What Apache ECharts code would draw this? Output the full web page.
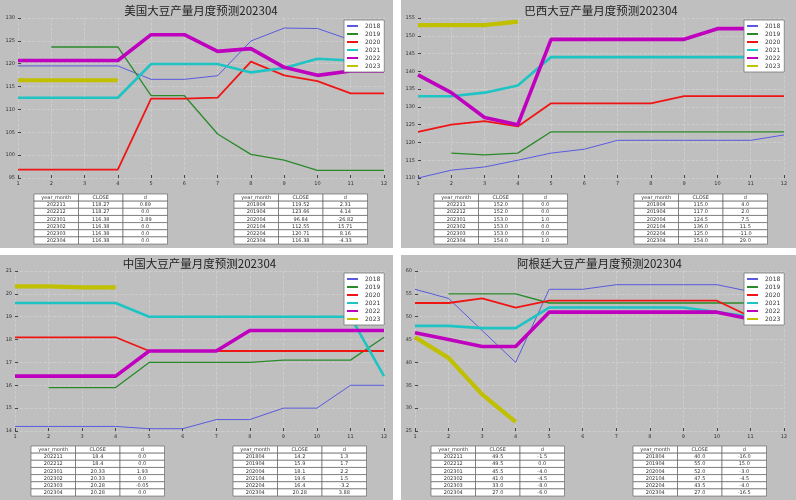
<!DOCTYPE html>
<html>
<head>
<meta charset="utf-8">
<script src="https://cdn.jsdelivr.net/npm/echarts@6/dist/echarts.min.js"></script>
<style>
  html, body { margin: 0; padding: 0; background: #fff; }
  #main { width: 796px; height: 500px; }
</style>
</head>
<body>
<div id="main"></div>
<script>
var months = ['1', '2', '3', '4', '5', '6', '7', '8', '9', '10', '11', '12'];
var years = ['2018', '2019', '2020', '2021', '2022', '2023'];
var titles = ['美国大豆产量月度预测202304', '巴西大豆产量月度预测202304', '中国大豆产量月度预测202304', '阿根廷大豆产量月度预测202304'];

// y axis ranges per panel
var yMin = [95, 110, 14, 25];
var yMax = [130, 155, 21, 60];
var yStep = [5, 5, 1, 5];

// one row per year (2018..2023), month 1..12
var usLines = [
  [119.52, 119.52, 119.52, 119.52, 116.58, 116.58, 117.38, 124.97, 127.8, 127.7, 125.2, 125.2],
  [null, 123.66, 123.66, 123.66, 113.0, 113.0, 104.62, 100.17, 98.93, 96.67, 96.67, 96.67],
  [96.84, 96.84, 96.84, 96.84, 112.35, 112.35, 112.6, 120.45, 117.45, 116.2, 113.52, 113.52],
  [112.55, 112.55, 112.55, 112.55, 119.93, 119.93, 119.93, 118.1, 119.06, 121.1, 120.7, 120.4],
  [120.71, 120.71, 120.71, 120.71, 126.35, 126.35, 122.7, 123.3, 119.2, 117.45, 118.4, 118.4],
  [116.38, 116.38, 116.38, 116.38]
];
var brLines = [
  [110, 112.2, 113.1, 115, 117, 118.1, 120.6, 120.6, 120.6, 120.6, 120.6, 122.1],
  [null, 117, 116.5, 117, 123, 123, 123, 123, 123, 123, 123, 123],
  [123, 125, 126, 124.5, 131, 131, 131, 131, 133, 133, 133, 133],
  [133, 133, 134, 136, 144, 144, 144, 144, 144, 144, 144, 144],
  [139, 134, 127, 125, 149, 149, 149, 149, 149, 152, 152, 152],
  [153, 153, 153, 154]
];
var cnLines = [
  [14.2, 14.2, 14.2, 14.2, 14.1, 14.1, 14.5, 14.5, 15, 15, 16, 16],
  [null, 15.9, 15.9, 15.9, 17, 17, 17, 17, 17.1, 17.1, 17.1, 18.1],
  [18.1, 18.1, 18.1, 18.1, 17.5, 17.5, 17.5, 17.5, 17.5, 17.5, 17.5, 17.5],
  [19.6, 19.6, 19.6, 19.6, 19, 19, 19, 19, 19, 19, 19, 16.4],
  [16.4, 16.4, 16.4, 16.4, 17.5, 17.5, 17.5, 18.4, 18.4, 18.4, 18.4, 18.4],
  [20.33, 20.33, 20.28, 20.28]
];
var arLines = [
  [56, 54, 47, 40, 56, 56, 57, 57, 57, 57, 55.5, 55.5],
  [null, 55, 55, 55, 53, 53, 53, 53, 53, 53, 53, 53],
  [53, 53, 54, 52, 53.5, 53.5, 53.5, 53.5, 53.5, 53.5, 50, 50],
  [48, 48, 47.5, 47.5, 52, 52, 52, 52, 52, 51, 50, 49.5],
  [46.5, 45, 43.5, 43.5, 51, 51, 51, 51, 51, 51, 49.5, 49.5],
  [45.5, 41, 33, 27]
];

// tables under each chart
var tableHead = ['year_month', 'CLOSE', 'd'];
var usRecent = [['202211', '118.27', '0.89'], ['202212', '118.27', '0.0'], ['202301', '116.38', '-1.89'], ['202302', '116.38', '0.0'], ['202303', '116.38', '0.0'], ['202304', '116.38', '0.0']];
var usApril = [['201804', '119.52', '2.31'], ['201904', '123.66', '4.14'], ['202004', '96.84', '-26.82'], ['202104', '112.55', '15.71'], ['202204', '120.71', '8.16'], ['202304', '116.38', '-4.33']];
var brRecent = [['202211', '152.0', '0.0'], ['202212', '152.0', '0.0'], ['202301', '153.0', '1.0'], ['202302', '153.0', '0.0'], ['202303', '153.0', '0.0'], ['202304', '154.0', '1.0']];
var brApril = [['201804', '115.0', '4.0'], ['201904', '117.0', '2.0'], ['202004', '124.5', '7.5'], ['202104', '136.0', '11.5'], ['202204', '125.0', '-11.0'], ['202304', '154.0', '29.0']];
var cnRecent = [['202211', '18.4', '0.0'], ['202212', '18.4', '0.0'], ['202301', '20.33', '1.93'], ['202302', '20.33', '0.0'], ['202303', '20.28', '-0.05'], ['202304', '20.28', '0.0']];
var cnApril = [['201804', '14.2', '1.3'], ['201904', '15.9', '1.7'], ['202004', '18.1', '2.2'], ['202104', '19.6', '1.5'], ['202204', '16.4', '-3.2'], ['202304', '20.28', '3.88']];
var arRecent = [['202211', '49.5', '-1.5'], ['202212', '49.5', '0.0'], ['202301', '45.5', '-4.0'], ['202302', '41.0', '-4.5'], ['202303', '33.0', '-8.0'], ['202304', '27.0', '-6.0']];
var arApril = [['201804', '40.0', '-16.0'], ['201904', '55.0', '15.0'], ['202004', '52.0', '-3.0'], ['202104', '47.5', '-4.5'], ['202204', '43.5', '-4.0'], ['202304', '27.0', '-16.5']];

var allLines = [usLines, brLines, cnLines, arLines];
var allTables = [[usRecent, usApril], [brRecent, brApril], [cnRecent, cnApril], [arRecent, arApril]];

var colors = ['#5a5ae0', '#2a8a2a', '#f01515', '#1ec4c4', '#bf00bf', '#c0c000'];
var widths = [1, 1.3, 1.8, 2.6, 3.6, 4.2];

// layout of the 4 panels
var panels = [
  { bg: [0, 0, 393, 248], grid: [18, 18, 366, 160], titleTop: 5, tblTop: 194, tblX: [34, 234] },
  { bg: [401, 0, 395, 248], grid: [418, 18, 366, 160], titleTop: 5, tblTop: 194, tblX: [434, 634] },
  { bg: [0, 255, 393, 245], grid: [15, 271, 369, 160], titleTop: 258, tblTop: 446, tblX: [31, 233] },
  { bg: [401, 255, 395, 245], grid: [415, 271, 369, 160], titleTop: 258, tblTop: 446, tblX: [431, 633] }
];

var labelFont = 'DejaVu Sans';
var cjkFont = '"Noto Sans CJK SC"';

function buildTable(x0, y0, rows) {
  var els = [];
  var cw = 44.5, rh = 7.15;
  var all = [tableHead].concat(rows);
  all.forEach(function(row, r) {
    row.forEach(function(cell, c) {
      els.push({
        type: 'rect',
        shape: { x: x0 + c * cw, y: y0 + r * rh, width: cw, height: rh },
        style: { fill: '#fff', stroke: '#555', lineWidth: 0.6 }
      });
      els.push({
        type: 'text',
        style: {
          text: cell, x: x0 + c * cw + cw / 2, y: y0 + r * rh + rh / 2 + 0.3,
          fontSize: 5, fontFamily: labelFont, fill: '#333',
          align: 'center', verticalAlign: 'middle'
        }
      });
    });
  });
  return els;
}

var grids = [], xAxes = [], yAxes = [], titleOpts = [], legends = [], series = [], graphics = [];

panels.forEach(function(p) {
  graphics.push({
    type: 'rect',
    shape: { x: p.bg[0], y: p.bg[1], width: p.bg[2], height: p.bg[3] },
    style: { fill: '#bfbfbf' }
  });
});

panels.forEach(function(p, k) {
  var g = p.grid;
  grids.push({
    left: g[0], top: g[1], width: g[2], height: g[3],
    show: true, backgroundColor: '#fff', borderColor: '#444', borderWidth: 1
  });
  xAxes.push({
    type: 'category', gridIndex: k, data: months, boundaryGap: false,
    axisLine: { show: false },
    axisTick: { inside: true, length: 3, lineStyle: { color: '#444' } },
    axisLabel: { fontSize: 5, color: '#333', fontFamily: labelFont, margin: 3, interval: 0 },
    splitLine: { show: true, lineStyle: { color: '#d0d0d0', type: 'dashed', width: 0.8 } }
  });
  yAxes.push({
    type: 'value', gridIndex: k, min: yMin[k], max: yMax[k], interval: yStep[k],
    axisLine: { show: false },
    axisTick: { show: true, inside: true, length: 3, lineStyle: { color: '#444' } },
    axisLabel: { fontSize: 5, color: '#333', fontFamily: labelFont, margin: 3 },
    splitLine: { show: true, lineStyle: { color: '#d0d0d0', type: 'dashed', width: 0.8 } }
  });
  titleOpts.push({
    text: titles[k], left: g[0] + g[2] / 2, top: p.titleTop, textAlign: 'center', padding: 0,
    textStyle: { fontSize: 11.5, fontWeight: 'normal', color: '#222', fontFamily: cjkFont }
  });
  legends.push({
    data: years, orient: 'vertical', left: g[0] + g[2] - 40, top: g[1] + 2,
    icon: 'rect', padding: [3, 4, 3, 3], itemGap: 2, itemWidth: 11, itemHeight: 2,
    backgroundColor: '#fff', borderColor: '#777', borderWidth: 0.8,
    textStyle: { fontSize: 6, color: '#333', fontFamily: labelFont, padding: [0, 0, 0, 2] },
    selectedMode: false
  });
  allLines[k].forEach(function(vals, i) {
    series.push({
      name: years[i], type: 'line', xAxisIndex: k, yAxisIndex: k,
      data: vals, symbol: 'none', silent: true,
      lineStyle: { color: colors[i], width: widths[i] },
      itemStyle: { color: colors[i] }
    });
  });
  graphics = graphics.concat(buildTable(p.tblX[0], p.tblTop, allTables[k][0]));
  graphics = graphics.concat(buildTable(p.tblX[1], p.tblTop, allTables[k][1]));
});

var chartoptions = {
  animation: false,
  backgroundColor: '#fff',
  title: titleOpts,
  legend: legends,
  grid: grids,
  xAxis: xAxes,
  yAxis: yAxes,
  series: series,
  graphic: graphics
};

var myChart = echarts.init(document.getElementById('main'));
myChart.setOption(chartoptions);
</script>
</body>
</html>
